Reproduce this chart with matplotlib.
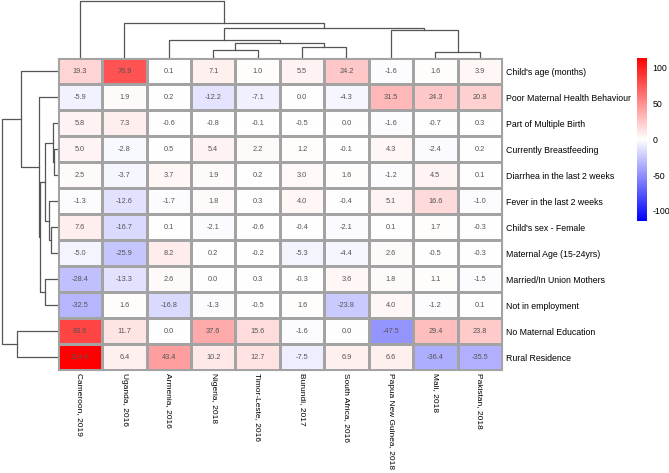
#!/usr/bin/env python3
import numpy as np
import matplotlib
matplotlib.use('Agg')
import matplotlib.pyplot as plt

plt.rcParams['font.family'] = ['Liberation Sans', 'DejaVu Sans']
plt.rcParams['axes.unicode_minus'] = False

# Colonne (paesi) e righe (variabili), nell'ordine del clustering
countries = ['Cameroon, 2019', 'Uganda, 2016', 'Armenia, 2016', 'Nigeria, 2018',
             'Timor-Leste, 2016', 'Burundi, 2017', 'South Africa, 2016',
             'Papua New Guinea, 2018', 'Mali, 2018', 'Pakistan, 2018']
variables = ["Child's age (months)", 'Poor Maternal Health Behaviour',
             'Part of Multiple Birth', 'Currently Breastfeeding',
             'Diarrhea in the last 2 weeks', 'Fever in the last 2 weeks',
             "Child's sex - Female", 'Maternal Age (15-24yrs)',
             'Married/In Union Mothers', 'Not in employment',
             'No Maternal Education', 'Rural Residence']

child_age = [19.3, 76.9, 0.1, 7.1, 1.0, 5.5, 24.2, -1.6, 1.6, 3.9]
poor_health = [-5.9, 1.9, 0.2, -12.2, -7.1, 0.0, -4.3, 31.5, 24.3, 20.8]
multiple_birth = [5.8, 7.3, -0.6, -0.8, -0.1, -0.5, 0.0, -1.6, -0.7, 0.3]
breastfeeding = [5.0, -2.8, 0.5, 5.4, 2.2, 1.2, -0.1, 4.3, -2.4, 0.2]
diarrhea = [2.5, -3.7, 3.7, 1.9, 0.2, 3.0, 1.6, -1.2, 4.5, 0.1]
fever = [-1.3, -12.6, -1.7, 1.8, 0.3, 4.0, -0.4, 5.1, 16.6, -1.0]
sex_female = [7.6, -16.7, 0.1, -2.1, -0.6, -0.4, -2.1, 0.1, 1.7, -0.3]
maternal_age = [-5.0, -25.9, 8.2, 0.2, -0.2, -5.3, -4.4, 2.6, -0.5, -0.3]
married = [-28.4, -13.3, 2.6, 0.0, 0.3, -0.3, 3.6, 1.8, 1.1, -1.5]
not_employed = [-32.5, 1.6, -16.8, -1.3, -0.5, 1.6, -23.8, 4.0, -1.2, 0.1]
no_education = [83.6, 11.7, 0.0, 37.6, 15.6, -1.6, 0.0, -47.5, 29.4, 23.8]
rural = [114.4, 6.4, 43.4, 10.2, 12.7, -7.5, 6.9, 6.6, -36.4, -35.5]

# Fusioni dei dendrogrammi: (figlio A, figlio B, altezza), nodi numerati come scipy
col_links = [(3, 4, 8), (5, 6, 11), (8, 9, 6), (10, 11, 15), (2, 13, 18),
             (7, 12, 28), (14, 15, 30), (1, 16, 35), (0, 17, 57)]
row_links = [(3, 4, 3.7), (2, 12, 4.7), (6, 7, 6.3), (5, 14, 8.7), (13, 15, 13),
             (8, 9, 13), (16, 17, 17.3), (1, 18, 19), (0, 19, 37),
             (10, 11, 40.7), (20, 21, 56)]

values = np.array([child_age, poor_health, multiple_birth, breastfeeding,
                   diarrhea, fever, sex_female, maternal_age, married,
                   not_employed, no_education, rural])
vmax = np.abs(values).max()

W, H = 669, 473
fig = plt.figure(figsize=(W / 100, H / 100), dpi=100)

def box(x0, y0, x1, y1):
    # coordinate in pixel (origine in alto a sinistra) -> frazioni figura
    return [x0 / W, 1 - y1 / H, (x1 - x0) / W, (y1 - y0) / H]

hx0, hx1, hy0, hy1 = 57.7, 502, 58, 370

# Heatmap
ax = fig.add_axes(box(hx0, hy0, hx1, hy1))
mesh = ax.pcolormesh(values, cmap='bwr', vmin=-vmax, vmax=vmax,
                     edgecolors='#a3a3a3', linewidth=0.8)
ax.set_xlim(0, len(countries))
ax.set_ylim(len(variables), 0)
for i in range(len(variables)):
    for j in range(len(countries)):
        ax.text(j + 0.5, i + 0.5, f'{values[i, j]:.1f}', ha='center', va='center',
                fontsize=5.3, color='#555555')
ax.set_xticks(np.arange(len(countries)) + 0.5)
ax.set_xticklabels(countries, rotation=270, fontsize=6.0, va='top', ha='center')
ax.set_yticks(np.arange(len(variables)) + 0.5)
ax.set_yticklabels(variables, fontsize=6.3)
ax.yaxis.tick_right()
ax.tick_params(axis='y', length=0, pad=3)
ax.tick_params(axis='x', length=0, pad=2)
for s in ax.spines.values():
    s.set_edgecolor('#a3a3a3')
    s.set_linewidth(0.8)

def draw_dendro(axd, links, n, vertical):
    pos = {i: i + 0.5 for i in range(n)}
    hgt = {i: 0.0 for i in range(n)}
    for k, (a, b, h) in enumerate(links):
        xs = [pos[a], pos[a], pos[b], pos[b]]
        ys = [hgt[a], h, h, hgt[b]]
        if vertical:
            axd.plot(xs, ys, color='#555555', lw=0.9)
        else:
            axd.plot(ys, xs, color='#555555', lw=0.9)
        pos[n + k] = (pos[a] + pos[b]) / 2
        hgt[n + k] = h
    axd.axis('off')

# Dendrogramma colonne (sopra)
axt = fig.add_axes(box(hx0, 0, hx1, hy0))
draw_dendro(axt, col_links, len(countries), True)
axt.set_xlim(0, len(countries))
axt.set_ylim(0, hy0)

# Dendrogramma righe (a sinistra)
axl = fig.add_axes(box(0, hy0, hx0, hy1))
draw_dendro(axl, row_links, len(variables), False)
axl.set_ylim(len(variables), 0)
axl.set_xlim(hx0, 0)

# Colorbar
cax = fig.add_axes(box(636.7, 57.7, 646.7, 221))
cb = fig.colorbar(mesh, cax=cax, ticks=[-100, -50, 0, 50, 100])
cb.outline.set_visible(False)
cax.tick_params(length=0, labelsize=6.3, pad=4)

fig.savefig('out.png', dpi=100)
print('Saved plot to out.png')
